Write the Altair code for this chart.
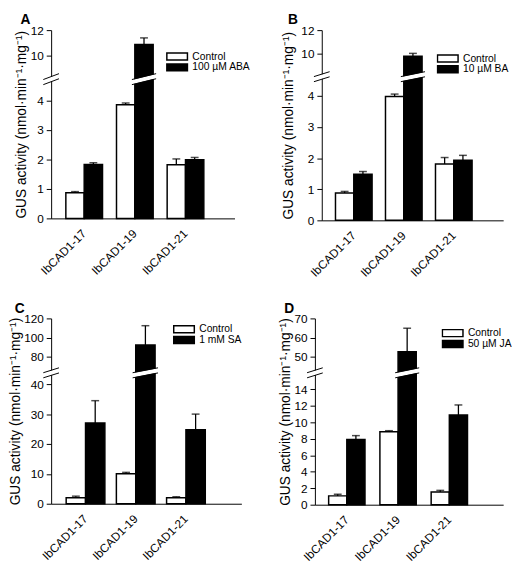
import altair as alt
import pandas as pd

lines = ["IbCAD1-17", "IbCAD1-19", "IbCAD1-21"]
y_title = "GUS activity (nmol·min⁻¹·mg⁻¹)"

# Panel A (ABA)
a_treat_name = "100 µM ABA"
a_ctrl = [0.87, 3.86, 1.82]
a_ctrl_err = [0.04, 0.06, 0.20]
a_trt = [1.83, 10.9, 1.99]
a_trt_err = [0.06, 0.50, 0.08]
a_ticks = [0, 1, 2, 3, 4, 10, 12]
a_break = [0, 4.63, 8.44, 12]

# Panel B (BA)
b_treat_name = "10 µM BA"
b_ctrl = [0.88, 3.98, 1.81]
b_ctrl_err = [0.05, 0.08, 0.21]
b_trt = [1.48, 9.81, 1.93]
b_trt_err = [0.09, 0.24, 0.16]
b_ticks = [0, 1, 2, 3, 4, 10, 12]
b_break = [0, 4.54, 8.3, 12]

# Panel C (SA)
c_treat_name = "1 mM SA"
c_ctrl = [1.98, 10.0, 1.98]
c_ctrl_err = [0.55, 0.5, 0.32]
c_trt = [27.0, 92.3, 24.8]
c_trt_err = [7.5, 20.1, 5.2]
c_ticks = [0, 10, 20, 30, 40, 80, 100, 120]
c_break = [0, 43.0, 65.8, 120]

# Panel D (JA)
d_treat_name = "50 µM JA"
d_ctrl = [1.07, 8.86, 1.54]
d_ctrl_err = [0.2, 0.12, 0.2]
d_trt = [7.91, 52.7, 10.87]
d_trt_err = [0.47, 12.2, 1.23]
d_ticks = [0, 2, 4, 6, 8, 10, 12, 14, 50, 60, 70]
d_break = [0, 15.7, 43.0, 70]

FONT = "Liberation Sans"


def panel(letter, treat_name, ctrl, ctrl_err, trt, trt_err, ticks, ydom,
          yrng, w, h, pin, pout, xalign, lx, ly, tpad):
    groups = ["Control", treat_name]
    df = pd.DataFrame({
        "line": lines + lines,
        "group": [groups[0]] * 3 + [groups[1]] * 3,
        "value": ctrl + trt,
        "err": ctrl_err + trt_err,
    })
    df["top"] = df["value"] + df["err"]
    brk = pd.DataFrame({"line": [lines[1]], "lo": [ydom[1]], "hi": [ydom[2]]})

    xscale = alt.Scale(domain=lines, paddingInner=pin, paddingOuter=pout, align=xalign)
    xaxis = alt.Axis(title=None, labelAngle=-45, ticks=False, labelFontSize=12,
                     labelPadding=13, labelAlign="right", labelBaseline="middle")
    yscale = alt.Scale(domain=ydom, range=yrng, zero=False, nice=False)
    yaxis = alt.Axis(values=ticks, title=y_title, tickSize=5, labelFontSize=12,
                     titleFontSize=14, titlePadding=tpad, labelPadding=3,
                     titleFontWeight="normal")

    def X(**kw):
        return alt.X("line:N", scale=xscale, axis=xaxis, **kw)

    def Y(f):
        return alt.Y(f, scale=yscale, axis=yaxis)

    xo = alt.XOffset("group:N", scale=alt.Scale(domain=groups, paddingInner=0, paddingOuter=0))

    legend = alt.Legend(title=None, orient="none", legendX=lx, legendY=ly,
                        symbolType="M-1,-0.34H1V0.34H-1Z", symbolSize=441,
                        symbolStrokeColor="black", symbolStrokeWidth=1.5,
                        labelFontSize=10.5, labelColor="black", rowPadding=0,
                        clipHeight=10, padding=0, labelOffset=4, symbolOpacity=1)

    bars = alt.Chart(df).mark_bar(stroke="black", strokeWidth=1.5).encode(
        x=X(), xOffset=xo, y=Y("value:Q"),
        color=alt.Color("group:N", scale=alt.Scale(domain=groups, range=["white", "black"]),
                        legend=legend),
    )
    errs = alt.Chart(df).mark_rule(color="black", strokeWidth=1.3).encode(
        x=X(), xOffset=xo, y=Y("value:Q"), y2="top:Q")
    caps = alt.Chart(df).mark_tick(color="black", thickness=1.5, size=8).encode(
        x=X(), xOffset=xo, y=Y("top:Q"))

    layers = [errs, bars, caps]
    # broken-axis marks on the bar and on the axis
    for sw, col, off in [(4.5, "white", 0), (1, "black", -2.6), (1, "black", 2.6)]:
        layers.append(alt.Chart(brk).mark_rule(color=col, strokeWidth=sw, yOffset=off,
                                               y2Offset=off, x2Offset=3).encode(
            x=X(bandPosition=0.42), x2=alt.X2("line:N", bandPosition=1.0),
            y=Y("lo:Q"), y2="hi:Q"))
        layers.append(alt.Chart(brk).mark_rule(color=col, strokeWidth=sw, yOffset=off,
                                               y2Offset=off).encode(
            x=alt.value(-8), x2=alt.value(8), y=Y("lo:Q"), y2="hi:Q"))

    return alt.layer(*layers).properties(
        width=w, height=h,
        title=alt.TitleParams(letter, anchor="start", fontSize=14, fontWeight="bold",
                              dx=6, offset=-3, color="black", font=FONT),
    )


A = panel("A", a_treat_name, a_ctrl, a_ctrl_err, a_trt, a_trt_err, a_ticks, a_break,
          [192, 53, 47, 0], 187, 192, 0.276, 0.448, 0.324, 117, 22, 2)
B = panel("B", b_treat_name, b_ctrl, b_ctrl_err, b_trt, b_trt_err, b_ticks, b_break,
          [194, 50, 45, 0], 185, 194, 0.268, 0.448, 0.306, 117, 24, 5)
C = panel("C", c_treat_name, c_ctrl, c_ctrl_err, c_trt, c_trt_err, c_ticks, c_break,
          [189, 58, 53, 0], 194, 189, 0.229, 0.509, 0.294, 124, 6, 1)
D = panel("D", d_treat_name, d_ctrl, d_ctrl_err, d_trt, d_trt_err, d_ticks, d_break,
          [190, 58, 53, 0], 192, 190, 0.291, 0.482, 0.278, 129, 10, 2)

ind = dict(x="independent", y="independent", color="independent", xOffset="independent")
row1 = alt.hconcat(A, B, spacing=31).resolve_scale(**ind)
row2 = alt.hconcat(C, D, spacing=36).resolve_scale(**ind)

chart = alt.vconcat(row1, row2, spacing=23).resolve_scale(**ind).properties(
    padding={"left": 0, "top": 0, "right": 0, "bottom": 0}
).configure(font=FONT).configure_view(stroke=None).configure_axis(
    domainColor="black", tickColor="black", labelColor="black", titleColor="black",
    grid=False, labelFont=FONT, titleFont=FONT, domainWidth=1, tickWidth=1,
).configure_legend(labelFont=FONT)

chart.save("out.html", embed_options={"renderer": "svg", "actions": False})
